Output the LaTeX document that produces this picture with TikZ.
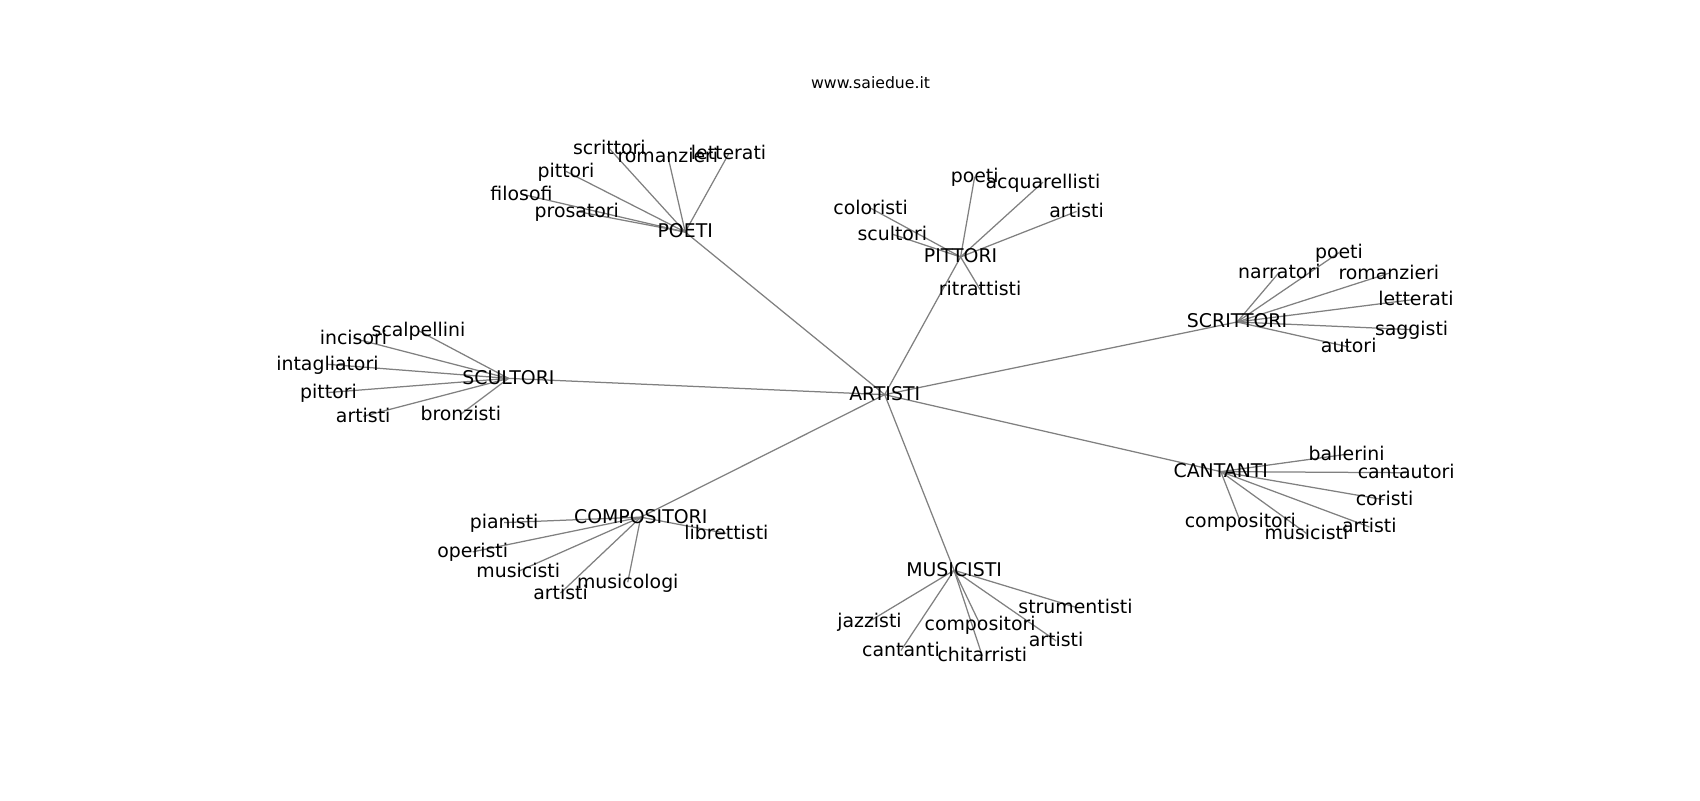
\documentclass[tikz,border=0pt]{standalone}
\usepackage{fontspec}
\setmainfont{DejaVu Sans}
\usetikzlibrary{backgrounds}

\begin{document}
\begin{tikzpicture}[x=0.7806pt, y=-0.7806pt,
    word/.style={inner sep=0pt, font=\fontsize{13.6}{16}\selectfont, text height=0.86em, text depth=0em},
    link/.style={draw=gray, line width=0.9pt}]
  \useasboundingbox (0,0) rectangle (1568,738);
  \node[inner sep=0pt, font=\fontsize{11.3}{13}\selectfont] (titolo) at (803,76) {www.saiedue.it};

  % Centro
  \node[word] (artisti) at (816,364) {ARTISTI};

  % Poeti
  \node[word] (poeti) at (632,214) {POETI};
  \node[word] (po1) at (562,137) {scrittori};
  \node[word] (po2) at (616,144) {romanzieri};
  \node[word] (po3) at (672,142) {letterati};
  \node[word] (po4) at (522,158) {pittori};
  \node[word] (po5) at (481,179) {filosofi};
  \node[word] (po6) at (532,195) {prosatori};

  % Pittori
  \node[word] (pittori) at (886,237) {PITTORI};
  \node[word] (pi1) at (899,163) {poeti};
  \node[word] (pi2) at (962,168) {acquarellisti};
  \node[word] (pi3) at (803,192) {coloristi};
  \node[word] (pi4) at (823,216) {scultori};
  \node[word] (pi5) at (993,195) {artisti};
  \node[word] (pi6) at (904,267) {ritrattisti};

  % Scrittori
  \node[word] (scrittori) at (1141,297) {SCRITTORI};
  \node[word] (sc1) at (1235,233) {poeti};
  \node[word] (sc2) at (1180,251) {narratori};
  \node[word] (sc3) at (1281,252) {romanzieri};
  \node[word] (sc4) at (1306,276) {letterati};
  \node[word] (sc5) at (1302,304) {saggisti};
  \node[word] (sc6) at (1244,320) {autori};

  % Scultori
  \node[word] (scultori) at (469,349) {SCULTORI};
  \node[word] (su1) at (386,305) {scalpellini};
  \node[word] (su2) at (326,312) {incisori};
  \node[word] (su3) at (302,336) {intagliatori};
  \node[word] (su4) at (303,362) {pittori};
  \node[word] (su5) at (335,384) {artisti};
  \node[word] (su6) at (425,382) {bronzisti};

  % Cantanti
  \node[word] (cantanti) at (1126,435) {CANTANTI};
  \node[word] (ca1) at (1242,419) {ballerini};
  \node[word] (ca2) at (1297,436) {cantautori};
  \node[word] (ca3) at (1277,461) {coristi};
  \node[word] (ca4) at (1144,481) {compositori};
  \node[word] (ca5) at (1205,492) {musicisti};
  \node[word] (ca6) at (1263,486) {artisti};

  % Compositori
  \node[word] (compositori) at (591,477) {COMPOSITORI};
  \node[word] (co1) at (465,482) {pianisti};
  \node[word] (co2) at (670,492) {librettisti};
  \node[word] (co3) at (436,509) {operisti};
  \node[word] (co4) at (478,527) {musicisti};
  \node[word] (co5) at (517,547) {artisti};
  \node[word] (co6) at (579,537) {musicologi};

  % Musicisti
  \node[word] (musicisti) at (880,526) {MUSICISTI};
  \node[word] (mu1) at (802,573) {jazzisti};
  \node[word] (mu2) at (992,560) {strumentisti};
  \node[word] (mu3) at (904,576) {compositori};
  \node[word] (mu4) at (974,591) {artisti};
  \node[word] (mu5) at (831,600) {cantanti};
  \node[word] (mu6) at (906,605) {chitarristi};

  % Collegamenti
  \begin{scope}[on background layer]
    \foreach \hub in {poeti, pittori, scrittori, scultori, cantanti, compositori, musicisti}
      \draw[link] (artisti.center) -- (\hub.center);
    \foreach \hub/\pre in {poeti/po, pittori/pi, scrittori/sc, scultori/su, cantanti/ca, compositori/co, musicisti/mu}
      \foreach \i in {1,...,6}
        \draw[link] (\hub.center) -- (\pre\i.center);
  \end{scope}
\end{tikzpicture}
\end{document}
